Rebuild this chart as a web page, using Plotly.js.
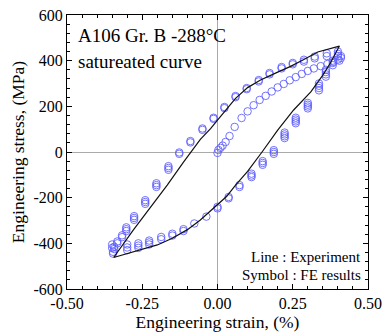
<!DOCTYPE html>
<html>
<head>
<meta charset="utf-8">
<script src="https://cdn.plot.ly/plotly-3.0.1.min.js"></script>
<style>
  html, body { margin: 0; padding: 0; background: #fff; }
  #chart { width: 383px; height: 333px; }
</style>
</head>
<body>
<div id="chart"></div>
<script>
// Experimental hysteresis loop (strain %, stress MPa): loading branch then unloading branch
const expStrain = [-0.345, -0.30, -0.25, -0.20, -0.15, -0.10, -0.057, 0.0, 0.03, 0.06, 0.10, 0.148, 0.20, 0.253, 0.31, 0.35, 0.375, 0.405,
                   0.333, 0.287, 0.243, 0.20, 0.143, 0.10, 0.06, 0.0, -0.023, -0.057, -0.083, -0.113, -0.167, -0.223, -0.28, -0.345];
const expStress = [-462, -445, -427, -407, -378, -340, -298, -232, -195, -145, -85, 0, 96, 184, 263, 337, 390, 464,
                   438, 405, 375, 350, 315, 282, 235, 140, 102, 55, 10, -44, -145, -241, -342, -462];

// FE results: unloading branch (upper side of the loop)
const feUpperStrain = [0.40, 0.40, 0.40, 0.41, 0.405, 0.363, 0.363, 0.323, 0.323, 0.287, 0.287, 0.25, 0.25, 0.213, 0.213,
                       0.173, 0.173, 0.137, 0.137, 0.097, 0.097, 0.06, 0.06, 0.023, 0.023, -0.013, -0.013, -0.05, -0.05,
                       -0.09, -0.09, -0.127, -0.127, -0.163, -0.163, -0.163, -0.203, -0.203, -0.203, -0.24, -0.24, -0.24,
                       -0.277, -0.277, -0.277, -0.303, -0.303, -0.303, -0.317, -0.317, -0.333, -0.333, -0.343, -0.343, -0.347, -0.347];
const feUpperStress = [440, 430, 420, 412, 400, 432, 420, 418, 410, 404, 396, 390, 384, 372, 366,
                       346, 340, 315, 309, 280, 275, 245, 240, 197, 192, 150, 145, 103, 97,
                       48, 42, -2, -8, -62, -70, -78, -137, -145, -153, -211, -219, -227,
                       -281, -289, -297, -330, -338, -346, -365, -373, -392, -400, -415, -425, -437, -445];

// FE results: loading branch (lower side of the loop)
const feLowerStrain = [-0.35, -0.35, -0.30, -0.30, -0.30, -0.263, -0.263, -0.263, -0.227, -0.227, -0.227, -0.187, -0.187,
                       -0.15, -0.15, -0.113, -0.113, -0.077, -0.037, 0.0, 0.0, 0.037, 0.037, 0.073, 0.073,
                       0.113, 0.113, 0.113, 0.15, 0.15, 0.15, 0.187, 0.187, 0.187, 0.223, 0.223, 0.223, 0.223,
                       0.26, 0.26, 0.26, 0.26, 0.30, 0.30, 0.30, 0.30, 0.337, 0.337, 0.337, 0.337,
                       0.36, 0.36, 0.36, 0.36, 0.383, 0.383, 0.383];
const feLowerStress = [-405, -420, -405, -418, -430, -400, -410, -420, -388, -396, -405, -372, -382,
                       -358, -366, -338, -346, -313, -283, -240, -247, -197, -203, -145, -153,
                       -95, -103, -110, -40, -48, -56, 8, 0, -8, 85, 77, 69, 61,
                       150, 142, 134, 126, 215, 207, 199, 191, 300, 290, 280, 270,
                       360, 350, 340, 330, 400, 390, 380];

// FE results: reloading curve starting from zero stress
const feInnerStrain = [0.0, 0.003, 0.01, 0.017, 0.027, 0.04, 0.057, 0.08, 0.10, 0.12, 0.14, 0.16, 0.18, 0.20,
                       0.22, 0.24, 0.26, 0.28, 0.30, 0.32, 0.343, 0.365, 0.385, 0.40, 0.41];
const feInnerStress = [-4, 9, 18, 28, 44, 70, 110, 149, 178, 205, 228, 246, 265, 283,
                       298, 314, 328, 342, 355, 366, 376, 385, 395, 405, 420];

// Tick labels
const xTickVals = [-0.5, -0.25, 0, 0.25, 0.5];
const xTickText = ['-0.50', '-0.25', '0.00', '0.25', '0.50'];
const yTickVals = [-600, -400, -200, 0, 200, 400, 600];
const yTickText = ['-600', '-400', '-200', '0', '200', '400', '600'];

const serif = '"Liberation Serif", "Times New Roman", serif';
const feMarker = {
  symbol: 'circle-open', size: 7.5,
  color: 'rgba(90, 90, 255, 0.85)',
  line: { width: 1, color: 'rgba(90, 90, 255, 0.85)' }
};

const traces = [
  { x: feUpperStrain, y: feUpperStress, type: 'scatter', mode: 'markers', marker: feMarker, showlegend: false },
  { x: feLowerStrain, y: feLowerStress, type: 'scatter', mode: 'markers', marker: feMarker, showlegend: false },
  { x: feInnerStrain, y: feInnerStress, type: 'scatter', mode: 'markers', marker: feMarker, showlegend: false },
  { x: expStrain, y: expStress, type: 'scatter', mode: 'lines',
    line: { color: '#111', width: 1.2 }, showlegend: false }
];

const axisCommon = {
  showline: true, linecolor: '#000', linewidth: 1, mirror: 'allticks',
  ticks: 'inside', ticklen: 5, tickwidth: 1, tickcolor: '#000',
  showgrid: false, zeroline: true, zerolinecolor: '#aaa', zerolinewidth: 1,
  tickfont: { family: serif, size: 16, color: '#000' }
};

const layout = {
  width: 383, height: 333,
  margin: { l: 67, r: 15, t: 15, b: 44 },
  paper_bgcolor: '#fff', plot_bgcolor: '#fff',
  font: { family: serif, color: '#000' },
  xaxis: Object.assign({}, axisCommon, {
    range: [-0.5, 0.5],
    tickvals: xTickVals, ticktext: xTickText,
    minor: { dtick: 0.05, tick0: 0, ticks: 'inside', ticklen: 3, tickcolor: '#000', showgrid: false },
    title: { text: 'Engineering strain, (%)', font: { family: serif, size: 17.5 }, standoff: 2 }
  }),
  yaxis: Object.assign({}, axisCommon, {
    range: [-600, 600],
    tickvals: yTickVals, ticktext: yTickText,
    minor: { dtick: 40, tick0: 0, ticks: 'inside', ticklen: 3, tickcolor: '#000', showgrid: false },
    title: { text: 'Engineering stress, (MPa)', font: { family: serif, size: 17.5 }, standoff: 4 }
  }),
  annotations: [
    { xref: 'paper', yref: 'paper', x: 0.03, y: 0.97, xanchor: 'left', yanchor: 'top',
      text: 'A106 Gr. B -288°C', showarrow: false, font: { family: serif, size: 19, color: '#000' } },
    { xref: 'paper', yref: 'paper', x: 0.03, y: 0.875, xanchor: 'left', yanchor: 'top',
      text: 'satureated curve', showarrow: false, font: { family: serif, size: 19, color: '#000' } },
    { xref: 'paper', yref: 'paper', x: 0.985, y: 0.117, xanchor: 'right', yanchor: 'middle',
      text: 'Line : Experiment', showarrow: false, font: { family: serif, size: 15, color: '#000' } },
    { xref: 'paper', yref: 'paper', x: 0.985, y: 0.051, xanchor: 'right', yanchor: 'middle',
      text: 'Symbol : FE results', showarrow: false, font: { family: serif, size: 15, color: '#000' } }
  ]
};

Plotly.newPlot('chart', traces, layout, { displayModeBar: false, staticPlot: true });
</script>
</body>
</html>
